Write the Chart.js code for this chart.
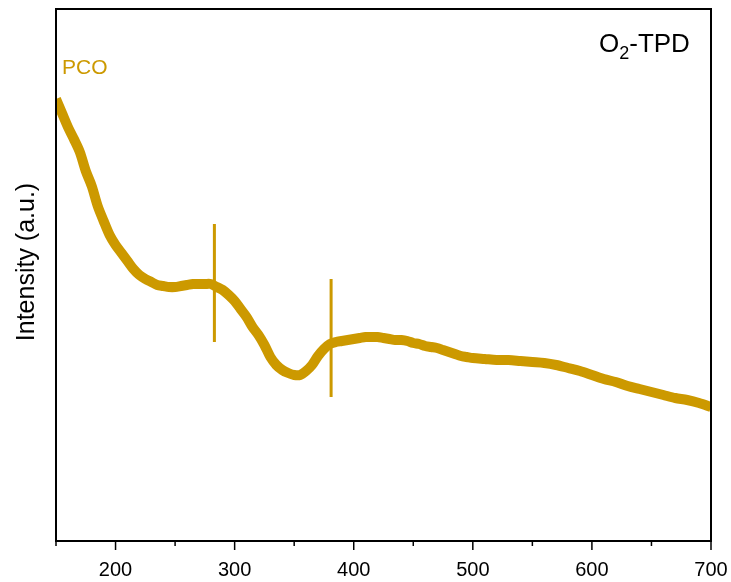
<!DOCTYPE html>
<html lang="en">
<head>
    <meta charset="UTF-8">
    <title>O2-TPD</title>
    <script src="https://cdn.jsdelivr.net/npm/chart.js"></script>
    <style>
        html, body { margin: 0; padding: 0; background: #fff; }
        #wrap { width: 731px; height: 582px; position: relative; }
    </style>
</head>
<body>
    <div id="wrap"><canvas id="tpdChart"></canvas></div>

    <script>
    // Temperature (°C) and signal
    const temps = [150, 155, 160, 165, 170, 175, 180, 185, 190, 195,
                   200, 205, 210, 215, 220, 225, 230, 235, 240, 245,
                   250, 255, 260, 265, 270, 275, 280, 285, 290, 295,
                   300, 305, 310, 315, 320, 325, 330, 335, 340, 345,
                   350, 355, 360, 365, 370, 375, 380, 385, 390, 395,
                   400, 405, 410, 415, 420, 425, 430, 435, 440, 445,
                   450, 455, 460, 465, 470, 475, 480, 485, 490, 495,
                   500, 510, 520, 530, 540, 550, 560, 570, 580, 590,
                   600, 610, 620, 630, 640, 650, 660, 670, 680, 690, 700];
    const signal = [442, 428, 414, 402, 389, 370, 355, 335, 320, 306,
                    296, 288, 280, 272, 266, 262, 259, 256, 255, 254,
                    254, 255, 256, 257, 257, 257, 257, 254, 251, 246,
                    240, 232, 224, 214, 206, 196, 184, 176, 171, 168,
                    166, 166, 170, 176, 185, 192, 197, 199, 200, 201,
                    202, 203, 204, 204, 204, 203, 202, 201, 201, 200,
                    198, 197, 195, 194, 193, 191, 189, 187, 185, 184,
                    183, 182, 181, 181, 180, 179, 178, 176, 173, 170,
                    166, 162, 159, 155, 152, 149, 146, 143, 141, 138, 134];

    // two sharp glitches in the trace
    const spikeTemps = [283, 381];
    const spikeTop = [317, 262];
    const spikeBottom = [199, 144];

    const xTicks = [200, 300, 400, 500, 600, 700];
    const gold = "#CC9900";
    const fontFam = "'Liberation Sans', Arial, sans-serif";

    const traceData = temps.map((t, i) => ({ x: t, y: signal[i] }));
    const spikeData = [];
    spikeTemps.forEach((t, i) => {
        spikeData.push({ x: t, y: spikeTop[i] });
        spikeData.push({ x: t, y: spikeBottom[i] });
        spikeData.push({ x: t + 0.01, y: null });
    });

    // frame, tick marks, axis title and the two labels
    const decor = {
        id: "decor",
        afterDraw(chart) {
            const ctx = chart.ctx;
            const a = chart.chartArea;
            const xs = chart.scales.x;
            ctx.save();
            ctx.strokeStyle = "#000";
            ctx.lineWidth = 2;
            ctx.strokeRect(a.left, a.top, a.right - a.left, a.bottom - a.top);
            ctx.lineWidth = 1.5;
            for (let v = 150; v <= 700; v += 50) {
                const px = xs.getPixelForValue(v);
                const len = v % 100 === 0 ? 9 : 5;
                ctx.beginPath();
                ctx.moveTo(px, a.bottom);
                ctx.lineTo(px, a.bottom + len);
                ctx.stroke();
            }

            // y axis title
            ctx.save();
            ctx.translate(27, 262);
            ctx.rotate(-Math.PI / 2);
            ctx.fillStyle = "#000";
            ctx.font = "25px " + fontFam;
            ctx.textAlign = "center";
            ctx.textBaseline = "middle";
            ctx.fillText("Intensity (a.u.)", 0, 0);
            ctx.restore();

            ctx.fillStyle = gold;
            ctx.font = "21px " + fontFam;
            ctx.textBaseline = "alphabetic";
            ctx.fillText("PCO", a.left + 6, 74);
            ctx.fillStyle = "#000";
            ctx.font = "26px " + fontFam;
            const x0 = 599;
            ctx.fillText("O", x0, 52);
            const wO = ctx.measureText("O").width;
            ctx.font = "18px " + fontFam;
            ctx.fillText("2", x0 + wO, 59);
            const w2 = ctx.measureText("2").width;
            ctx.font = "26px " + fontFam;
            ctx.fillText("-TPD", x0 + wO + w2, 52);
            ctx.restore();
        }
    };

    new Chart(document.getElementById("tpdChart"), {
        type: "line",
        data: {
            datasets: [
                {
                    data: traceData,
                    borderColor: gold,
                    borderWidth: 10,
                    pointRadius: 0,
                    tension: 0.3
                },
                {
                    data: spikeData,
                    borderColor: gold,
                    borderWidth: 3,
                    pointRadius: 0,
                    spanGaps: false
                }
            ]
        },
        options: {
            responsive: true,
            maintainAspectRatio: false,
            animation: false,
            layout: { padding: { top: 9, right: 20, left: 0, bottom: 0 } },
            plugins: { legend: { display: false }, tooltip: { enabled: false } },
            scales: {
                x: {
                    type: "linear",
                    min: 150,
                    max: 700,
                    afterBuildTicks: (scale) => {
                        scale.ticks = xTicks.map(v => ({ value: v }));
                    },
                    afterFit: (scale) => {
                        scale.height = 41;
                        scale.paddingLeft = 0;
                        scale.paddingRight = 0;
                    },
                    grid: { display: false },
                    border: { display: false },
                    ticks: {
                        color: "#000",
                        padding: 9,
                        maxRotation: 0,
                        font: { family: fontFam, size: 20 }
                    }
                },
                y: {
                    min: 0,
                    max: 532,
                    afterFit: (scale) => { scale.width = 56; },
                    grid: { display: false },
                    border: { display: false },
                    ticks: { display: false }
                }
            }
        },
        plugins: [decor]
    });
    </script>
</body>
</html>
